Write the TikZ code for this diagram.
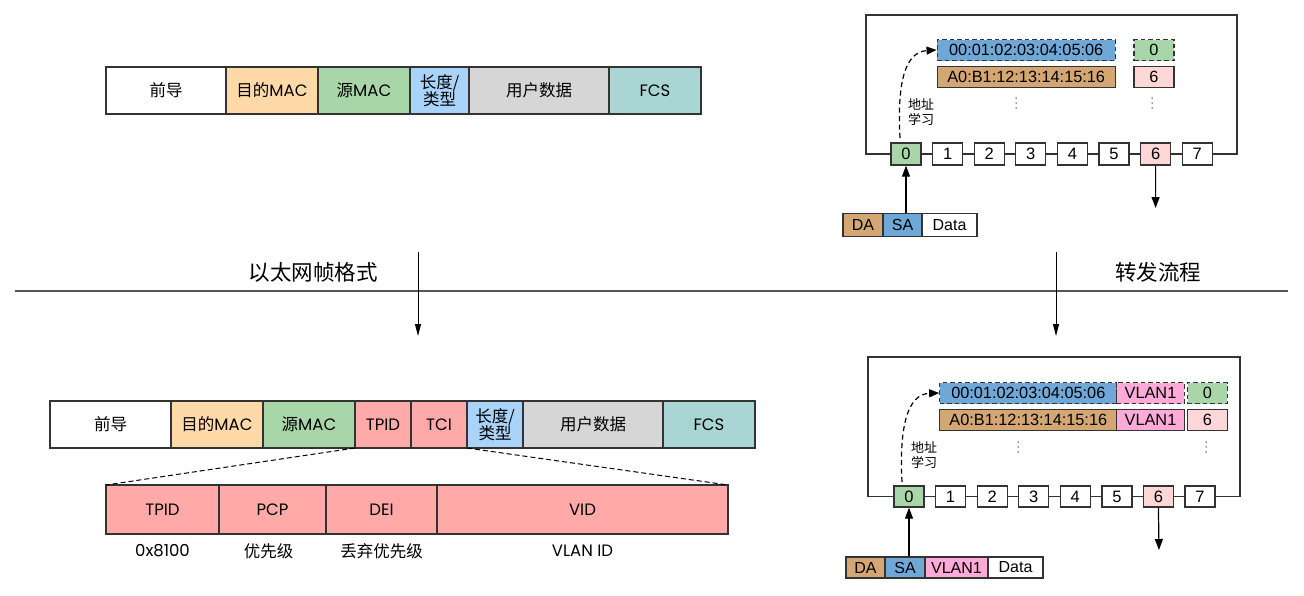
\documentclass[tikz,border=0pt]{standalone}
\usepackage{fontspec}
\setmainfont{Liberation Sans}
\newfontfamily\cjk{Noto Sans CJK SC}
\newfontfamily\geo{Poppins}
\usetikzlibrary{arrows.meta,calc}
\newcommand{\zhtext}[1]{{\cjk #1}}

\definecolor{cLine}{HTML}{333333}
\definecolor{cRule}{HTML}{555555}
\definecolor{cPeach}{HTML}{FFD9A8}
\definecolor{cGreen}{HTML}{A9D6A9}
\definecolor{cLblue}{HTML}{A9D3F9}
\definecolor{cGray}{HTML}{D6D6D6}
\definecolor{cTeal}{HTML}{A9D5D4}
\definecolor{cSalmon}{HTML}{FFA9A9}
\definecolor{cMac}{HTML}{6FA7D7}
\definecolor{cTan}{HTML}{D4A674}
\definecolor{cVlan}{HTML}{FFAAD8}
\definecolor{cPink}{HTML}{FFD7D7}

\begin{document}
\begin{tikzpicture}[x=1pt,y=-1pt,
  fld/.style={draw=cLine, line width=1.4pt, inner sep=0pt, outer sep=0pt,
    minimum height=47pt, align=center,
    font=\geo\fontsize{16.5}{17}\selectfont},
  sub/.style={fld, fill=cSalmon, minimum height=49pt},
  fieldnote/.style={inner sep=0pt, font=\geo\fontsize{16.5}{17}\selectfont},
  port/.style={draw=cLine, line width=1.3pt, fill=white, inner sep=0pt,
    minimum width=30pt, minimum height=22pt, font=\fontsize{16.5}{18}\selectfont},
  tab/.style={draw=cLine, line width=1.3pt, inner sep=0pt,
    minimum height=21pt, font=\fontsize{16.3}{18}\selectfont},
  tabdash/.style={tab, dash pattern=on 4.5pt off 3pt},
  pkt/.style={draw=cLine, line width=1.3pt, inner sep=0pt,
    minimum height=23pt, font=\fontsize{16}{17}\selectfont},
  sw/.style={draw=cLine, line width=1.8pt},
  learn/.style={inner sep=0pt, align=left, font=\cjk\fontsize{13}{14.5}\selectfont},
  flow/.style={line width=1.2pt, -{Triangle[length=11pt,width=8pt]}},
  learnarrow/.style={line width=1.2pt, dash pattern=on 5pt off 3.5pt,
    -{Triangle[length=10pt,width=8pt]}},
  down/.style={line width=1pt, -{Triangle[length=12pt,width=6pt]}},
  fan/.style={line width=1pt, dash pattern=on 5pt off 3pt},
  title/.style={inner sep=0pt, font=\cjk\fontsize{21.5}{23}\selectfont},
]
\useasboundingbox (0,0) rectangle (1304,595);

% ---------- plain Ethernet frame ----------
\node[fld, fill=white,  minimum width=120pt] (pre1) at (166,90.5)   {\zhtext{前导}};
\node[fld, fill=cPeach, minimum width=92pt]  (dst1) at (272,90.5)   {\zhtext{目的}MAC};
\node[fld, fill=cGreen, minimum width=92pt]  (src1) at (364,90.5)   {\zhtext{源}MAC};
\node[fld, fill=cLblue, minimum width=59pt]  (len1) at (439.5,90.5) {\zhtext{长度/}\\\zhtext{类型}};
\node[fld, fill=cGray,  minimum width=140pt] (dat1) at (539,90.5)   {\zhtext{用户数据}};
\node[fld, fill=cTeal,  minimum width=92pt]  (fcs1) at (655,90.5)   {FCS};

% ---------- 802.1Q tagged frame ----------
\node[fld, fill=white,   minimum width=121pt] (pre2)  at (110.5,424.5) {\zhtext{前导}};
\node[fld, fill=cPeach,  minimum width=92pt]  (dst2)  at (217,424.5)   {\zhtext{目的}MAC};
\node[fld, fill=cGreen,  minimum width=92pt]  (src2)  at (309,424.5)   {\zhtext{源}MAC};
\node[fld, fill=cSalmon, minimum width=56pt]  (tpid2) at (383,424.5)   {TPID};
\node[fld, fill=cSalmon, minimum width=56pt]  (tci2)  at (439,424.5)   {TCI};
\node[fld, fill=cLblue,  minimum width=56pt]  (len2)  at (495,424.5)   {\zhtext{长度/}\\\zhtext{类型}};
\node[fld, fill=cGray,   minimum width=140pt] (dat2)  at (593,424.5)   {\zhtext{用户数据}};
\node[fld, fill=cTeal,   minimum width=92pt]  (fcs2)  at (709,424.5)   {FCS};

% tag fields
\node[sub, minimum width=113pt] (tpidS) at (162.5,509.5) {TPID};
\node[sub, minimum width=107pt] (pcpS)  at (272.5,509.5) {PCP};
\node[sub, minimum width=111pt] (deiS)  at (381.5,509.5) {DEI};
\node[sub, minimum width=291pt] (vidS)  at (582.5,509.5) {VID};
\node[fieldnote] (tpidC) at (162.5,551) {0x8100};
\node[fieldnote] (pcpC)  at (268.5,551) {\zhtext{优先级}};
\node[fieldnote] (deiC)  at (381.5,551) {\zhtext{丢弃优先级}};
\node[fieldnote] (vidC)  at (582.5,551) {VLAN ID};
\draw[fan] (tpid2.south west) -- (tpidS.north west);
\draw[fan] (len2.south west) -- (vidS.north east);

% ---------- divider and captions ----------
\coordinate (ruleL) at (15,291);
\coordinate (ruleR) at (1288,291);
\draw[cRule, line width=2.5pt] (ruleL) -- (ruleR);
\node[title] (tEth) at (313,272) {以太网帧格式};
\node[title] (tFwd) at (1158,272) {转发流程};
\coordinate (dnA1) at (418,252);
\coordinate (dnA2) at (418,336);
\coordinate (dnB1) at (1056,252);
\coordinate (dnB2) at (1056,336);
\draw[down] (dnA1) -- (dnA2);
\draw[down] (dnB1) -- (dnB2);

% ---------- switch without VLAN ----------
\draw[sw] (866,15) rectangle (1237,154);
\foreach \i in {0,...,7} {
  \node[port] (pa\i) at ({906+41.6*\i},154) {\i};
}
\node[port, fill=cGreen] at (pa0) {0};
\node[port, fill=cPink]  at (pa6) {6};

\node[tabdash, fill=cMac, minimum width=178pt] (maca1) at (1026.2,50) {00:01:02:03:04:05:06};
\node[tabdash, fill=cGreen, minimum width=40pt] (prta1) at (1154,50) {0};
\node[tab, fill=cTan, minimum width=178pt] (maca2) at (1026.2,77) {A0:B1:12:13:14:15:16};
\node[tab, fill=cPink, minimum width=40pt] (prta2) at (1154,77) {6};
\foreach \x in {1016,1152} \foreach \d in {-5,0,5}
  \fill[cLine] (\x,{103+\d}) circle (0.75pt);

\node[learn] (lrnA) at (921,112) {地址\\学习};
\coordinate (lrnAs) at (900,138);
\draw[learnarrow] (lrnAs) .. controls (897,82) and (905,52) .. (maca1.west);

\node[pkt, fill=cTan, minimum width=40pt] (daA) at (863,225)   {DA};
\node[pkt, fill=cMac, minimum width=39pt] (saA) at (902.5,225) {SA};
\node[pkt, fill=white, minimum width=55pt] (dtA) at (949.5,225) {Data};
\draw[flow] (pa0.south |- saA.north) -- (pa0.south);
\coordinate (outA) at (1155.6,208);
\draw[flow] (pa6.south) -- (outA);

% ---------- switch with VLAN ----------
\draw[sw] (868,357) rectangle (1240,496.5);
\foreach \i in {0,...,7} {
  \node[port, minimum height=21pt] (pb\i) at ({909+41.57*\i},496.5) {\i};
}
\node[port, minimum height=21pt, fill=cGreen] at (pb0) {0};
\node[port, minimum height=21pt, fill=cPink]  at (pb6) {6};

\node[tabdash, fill=cMac,  minimum width=177pt]  (macb1) at (1028.3,393) {00:01:02:03:04:05:06};
\node[tabdash, fill=cVlan, minimum width=67.6pt] (vlb1)  at (1150.5,393) {VLAN1};
\node[tabdash, fill=cGreen, minimum width=39.6pt] (prtb1) at (1207.5,393) {0};
\node[tab, fill=cTan,  minimum width=177pt]  (macb2) at (1028.3,420) {A0:B1:12:13:14:15:16};
\node[tab, fill=cVlan, minimum width=67.6pt] (vlb2)  at (1150.5,420) {VLAN1};
\node[tab, fill=cPink, minimum width=39.6pt] (prtb2) at (1207.5,420) {6};
\foreach \x in {1018,1206} \foreach \d in {-5,0,5}
  \fill[cLine] (\x,{447+\d}) circle (0.75pt);

\node[learn] (lrnB) at (924,455) {地址\\学习};
\coordinate (lrnBs) at (902,482);
\draw[learnarrow] (lrnBs) .. controls (899,425) and (908,394) .. (macb1.west);

\node[pkt, fill=cTan,  minimum width=39pt, minimum height=21pt] (daB) at (865.5,567.5) {DA};
\node[pkt, fill=cMac,  minimum width=40pt, minimum height=21pt] (saB) at (905,567.5)   {SA};
\node[pkt, fill=cVlan, minimum width=63pt, minimum height=21pt] (vlB) at (956.5,567.5) {VLAN1};
\node[pkt, fill=white, minimum width=55pt, minimum height=21pt] (dtB) at (1015.5,567.5) {Data};
\draw[flow] (pb0.south |- saB.north) -- (pb0.south);
\coordinate (outB) at (1159,550);
\draw[flow] (pb6.south) -- (outB);
\end{tikzpicture}
\end{document}
